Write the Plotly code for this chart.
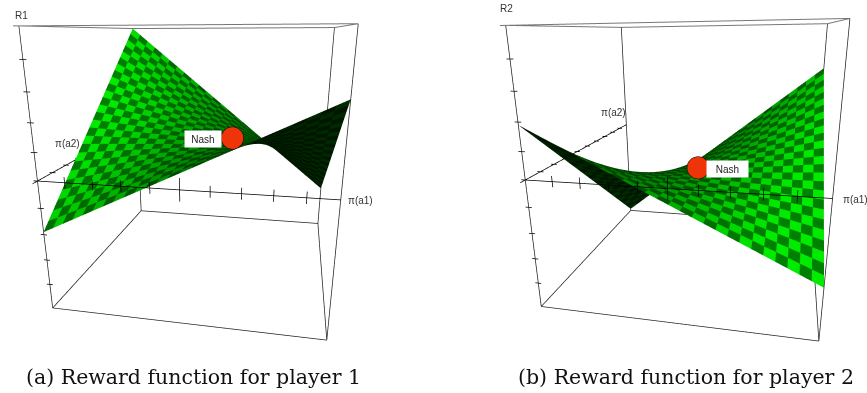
import numpy as np
import plotly.graph_objects as go

# Corner payoffs: [[pi1=0,pi2=0],[pi1=1,pi2=0]], [[pi1=0,pi2=1],[pi1=1,pi2=1]]
R1_payoff = [[-0.38, 0.60], [1.0, -0.60]]
R2_payoff = [[0.38, -0.60], [-0.98, 0.60]]
NASH1 = (0.61, 0.40, 0.175)
NASH2 = (0.52, 0.38, -0.075)
tick_fracs = [0.1, 0.2, 0.3, 0.4, 0.5, 0.6, 0.7, 0.8, 0.9]
z_ticks = [-0.8, -0.6, -0.4, -0.2, 0.2, 0.4, 0.6, 0.8]
N_CELLS = 26
PAD = 1.2  # axis ranges are widened by this factor so overhanging lines are not clipped

CAM1 = dict(eye=[0.358, -1.931, 0.477], center=[-0.03, -0.057, -0.183], up=[0.003, 0.0, 1], aspect=[1, 1.051, 0.998])
CAM2 = dict(eye=[0.372, -1.894, 0.467], center=[-0.069, -0.063, -0.185], up=[0.014, 0.003, 1], aspect=[1, 1.031, 0.989])
DOM1 = [0, 400 / 867]
DOM2 = [493 / 867, 1]


def reward(P, x, y):
    return (1 - y) * ((1 - x) * P[0][0] + x * P[0][1]) + y * ((1 - x) * P[1][0] + x * P[1][1])


def to_view(x, y, z, a):
    return np.array([(x - .5) * a[0], (y - .5) * a[1], z / 2 * a[2]])


def nash_point(N, cam, t=0.35):
    # the Nash point, moved towards the eye so the disc is not cut by the surface
    a = np.array(cam["aspect"])
    q = to_view(N[0], N[1], N[2], a)
    v = np.array(cam["eye"]) - q
    q = q + t * v / np.linalg.norm(v)
    return q[0] / a[0] + .5, q[1] / a[1] + .5, q[2] * 2 / a[2]


def surface_trace(P, cam):
    g = np.linspace(0, 1, N_CELLS + 1)
    X, Y = np.meshgrid(g, g, indexing="ij")
    Z = reward(P, X, Y)
    a = np.array(cam["aspect"])
    eye = np.array(cam["eye"])
    idx = lambda i, j: i * (N_CELLS + 1) + j
    I, J, K, cols = [], [], [], []
    for i in range(N_CELLS):
        for j in range(N_CELLS):
            xc, yc = (g[i] + g[i + 1]) / 2, (g[j] + g[j + 1]) / 2
            zc = reward(P, xc, yc)
            p = to_view(xc, yc, zc, a)
            d = 1e-3
            px = np.array([d, 0, (reward(P, xc + d, yc) - zc) / 2]) * a
            py = np.array([0, d, (reward(P, xc, yc + d) - zc) / 2]) * a
            n = np.cross(px, py)
            n /= np.linalg.norm(n)
            v = eye - p
            v /= np.linalg.norm(v)
            s = float(n @ v)
            if s >= 0:
                b = min(1.0, 0.35 + 1.0 * s)
            else:
                b = 0.12 + 0.2 * min(1, -s)
            base = 235 if (i + j) % 2 else 128
            c = f"rgb(0,{int(base * b)},0)"
            I += [idx(i, j), idx(i, j)]
            J += [idx(i + 1, j), idx(i + 1, j + 1)]
            K += [idx(i + 1, j + 1), idx(i, j + 1)]
            cols += [c, c]
    return go.Mesh3d(x=X.ravel(), y=Y.ravel(), z=Z.ravel(), i=I, j=J, k=K, facecolor=cols,
                     flatshading=True, showscale=False, hoverinfo="skip",
                     lighting=dict(ambient=1, diffuse=0, specular=0, fresnel=0, roughness=1))


def line_trace(pairs, color, width):
    xs, ys, zs = [], [], []
    for a, b in pairs:
        xs += [a[0], b[0], None]
        ys += [a[1], b[1], None]
        zs += [a[2], b[2], None]
    return go.Scatter3d(x=xs, y=ys, z=zs, mode="lines", line=dict(color=color, width=width),
                        hoverinfo="skip", showlegend=False)


def panel(P, N, cam, scene):
    traces = [surface_trace(P, cam)]
    t, b = 1, -1
    top = [((-0.02, 0, t), (1, 0, t)), ((1, 0, t), (1, 1, t)), ((1, 1, t), (0, 1, t)), ((0, 1, t), (0, 0, t))]
    rest = [((0, 0, t), (0, 0, b)), ((1, 0, t), (1, 0, b)), ((0, 1, t), (0, 1, b)), ((1, 1, t), (1, 1, b)),
            ((0, 0, b), (1, 0, b)), ((1, 0, b), (1, 1, b)), ((1, 1, b), (0, 1, b)), ((0, 1, b), (0, 0, b))]
    axes = [((-0.015, 0, 0), (1, 0, 0)), ((0, -0.03, 0), (0, 1, 0))]
    ticks = []
    for f in tick_fracs:
        h = 0.08 if f == 0.5 else 0.04
        ticks.append(((f, 0, -h), (f, 0, h)))
        ticks.append(((-0.012, f, 0), (0.012, f, 0)))
    for z in z_ticks:
        ticks.append(((-0.012, 0, z), (0.012, 0, z)))
    traces.append(line_trace(top, "#777777", 2))
    traces.append(line_trace(rest, "#222222", 1.5))
    traces.append(line_trace(axes, "#000000", 1.5))
    traces.append(line_trace(ticks, "#000000", 1.5))
    x, y, z = nash_point(N, cam)
    traces.append(go.Scatter3d(x=[x], y=[y], z=[z], mode="markers", showlegend=False, hoverinfo="skip",
                               marker=dict(size=13, color="#f0340a", line=dict(color="black", width=1))))
    for tr in traces:
        tr.scene = scene
    return traces


def scene_layout(cam, dom, N, name, name_shift, nash_shift, nash_w, a2pos, a2shift, a1shift):
    ax = dict(visible=False, showspikes=False)
    a = cam["aspect"]
    x, y, z = nash_point(N, cam)
    fs = dict(family="Liberation Sans", size=10, color="#333333")
    ann = [
        dict(x=0, y=0, z=1.0, text=name, showarrow=False, xshift=name_shift[0], yshift=name_shift[1], font=fs),
        dict(x=1, y=0, z=0, text="π(a1)", showarrow=False, xshift=a1shift, yshift=-1, font=fs),
        dict(x=a2pos[0], y=a2pos[1], z=a2pos[2], text="π(a2)", showarrow=False, xshift=a2shift[0], yshift=a2shift[1], font=fs),
        dict(x=x, y=y, z=z, text="Nash", showarrow=False, xshift=nash_shift[0], yshift=nash_shift[1],
             font=dict(family="Liberation Sans", size=10, color="#222222"), bgcolor="white", width=nash_w, height=14),
    ]
    return dict(domain=dict(x=dom, y=[0, 1]),
                xaxis=dict(range=[0.5 - 0.5 * PAD, 0.5 + 0.5 * PAD], **ax),
                yaxis=dict(range=[0.5 - 0.5 * PAD, 0.5 + 0.5 * PAD], **ax),
                zaxis=dict(range=[-PAD, PAD], **ax),
                aspectmode="manual", dragmode="orbit",
                aspectratio=dict(x=a[0] * PAD, y=a[1] * PAD, z=a[2] * PAD),
                camera=dict(eye=dict(zip("xyz", cam["eye"])), center=dict(zip("xyz", cam["center"])),
                            up=dict(zip("xyz", cam["up"])), projection=dict(type="perspective")),
                bgcolor="white", annotations=ann)


fig = go.Figure()
fig.add_traces(panel(R1_payoff, NASH1, CAM1, "scene"))
fig.add_traces(panel(R2_payoff, NASH2, CAM2, "scene2"))
cap = dict(family="DejaVu Serif", size=20.5, color="#111111")
fig.update_layout(
    width=867, height=393, margin=dict(l=0, r=0, t=0, b=0), showlegend=False, paper_bgcolor="white",
    scene=scene_layout(CAM1, DOM1, NASH1, "R1", (3, 10), (-29, -1), 34, (0, 0.3, 0.1), (-9, 3), 20),
    scene2=scene_layout(CAM2, DOM2, NASH2, "R2", (1, 17), (30, -2), 39, (0, 1, 0.1), (-12, 3), 23),
    annotations=[
        dict(x=193.5 / 867, y=1 - 377 / 393, xref="paper", yref="paper", xanchor="center", yanchor="middle",
             text="(a) Reward function for player 1", showarrow=False, font=cap),
        dict(x=686 / 867, y=1 - 377 / 393, xref="paper", yref="paper", xanchor="center", yanchor="middle",
             text="(b) Reward function for player 2", showarrow=False, font=cap),
    ],
)
fig.write_html("out.html", config=dict(displayModeBar=False),
               post_script="document.body.style.margin='0';document.body.style.overflow='hidden';")
